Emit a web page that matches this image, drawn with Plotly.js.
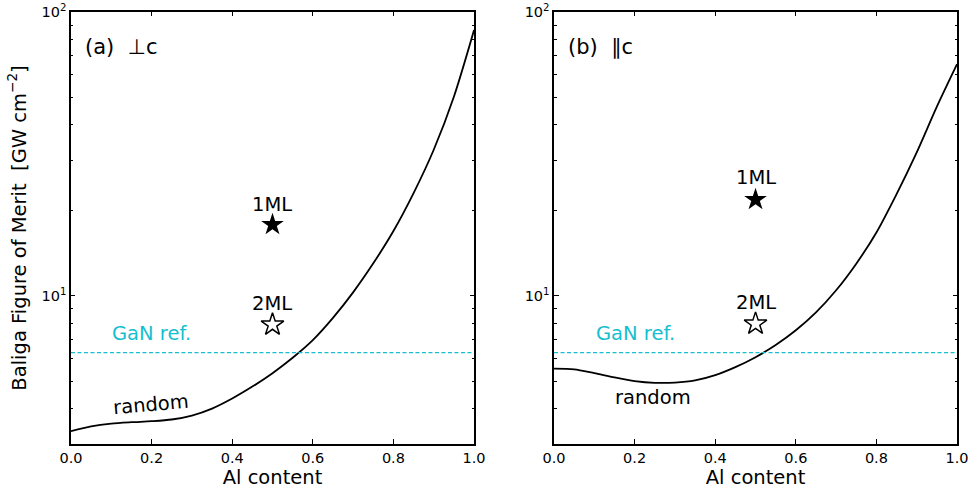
<!DOCTYPE html>
<html>
<head>
<meta charset="utf-8">
<script src="https://cdn.plot.ly/plotly-3.0.1.min.js"></script>
<style>html,body{margin:0;padding:0;background:#fff;}#chart{width:972px;height:493px;}</style>
</head>
<body>
<div id="chart"></div>
<script>
// Al content grid
const alContent = [0.00,0.05,0.10,0.15,0.20,0.25,0.30,0.35,0.40,0.45,0.50,0.55,0.60,0.65,0.70,0.75,0.80,0.85,0.90,0.95,1.00];
// (a) perpendicular to c, random alloy BFOM [GW cm^-2]
const randomPerp = [3.33,3.46,3.54,3.58,3.61,3.66,3.78,4.00,4.34,4.78,5.33,6.04,6.97,8.35,10.27,13.0,16.9,23.0,32.7,50.3,86.4];
// (b) parallel to c
const randomPar = [5.53,5.50,5.33,5.15,5.00,4.93,4.94,5.03,5.25,5.60,6.07,6.70,7.55,8.73,10.45,12.97,16.7,22.8,32.0,46.4,65.5];
// superlattice points
const mlX = [0.5];
const ml1Perp = [17.8], ml2Perp = [7.9];
const ml1Par = [21.8], ml2Par = [7.96];
// GaN reference
const ganRef = 6.3;
const refX = [0, 1];
// tick labels
const xTickVals = [0,0.2,0.4,0.6,0.8,1.0];
const xTickText = ['0.0','0.2','0.4','0.6','0.8','1.0'];
const yTickVals = [10,100];
const yTickText = ['10<sup>1</sup>','10<sup>2</sup>'];
const yMinorVals = [3,4,5,6,7,8,9,20,30,40,50,60,70,80,90];

const FONT = "DejaVu Sans, sans-serif";
const cyan = "#17becf";
const TXT = 19.5;
const YDOM = [0.0994,0.9757];
const YRANGE = [Math.log10(3), 2.0002];

const traces = [
  {x: alContent, y: randomPerp, xaxis:'x', yaxis:'y', mode:'lines', line:{color:'black', width:1.8, shape:'spline', smoothing:0.8}},
  {x: refX, y: refX.map(()=>ganRef), xaxis:'x', yaxis:'y', mode:'lines', line:{color:cyan, width:1.2, dash:'4px,2.5px'}},
  {x: mlX, y: ml1Perp, xaxis:'x', yaxis:'y', mode:'markers', marker:{symbol:'star', size:17, color:'black'}},
  {x: mlX, y: ml2Perp, xaxis:'x', yaxis:'y', mode:'markers', marker:{symbol:'star-open', size:17, color:'black', line:{width:1.5}}},
  {x: alContent, y: randomPar, xaxis:'x2', yaxis:'y2', mode:'lines', line:{color:'black', width:1.8, shape:'spline', smoothing:0.8}},
  {x: refX, y: refX.map(()=>ganRef), xaxis:'x2', yaxis:'y2', mode:'lines', line:{color:cyan, width:1.2, dash:'4px,2.5px'}},
  {x: mlX, y: ml1Par, xaxis:'x2', yaxis:'y2', mode:'markers', marker:{symbol:'star', size:17, color:'black'}},
  {x: mlX, y: ml2Par, xaxis:'x2', yaxis:'y2', mode:'markers', marker:{symbol:'star-open', size:17, color:'black', line:{width:1.5}}},
  // empty traces to bring up the minor-tick overlay axes
  {x: [], y: [], xaxis:'x', yaxis:'y3', mode:'lines', hoverinfo:'skip'},
  {x: [], y: [], xaxis:'x2', yaxis:'y4', mode:'lines', hoverinfo:'skip'}
];

function xax(domain, anchor){
  return {domain:domain, anchor:anchor, range:[0,1], tickmode:'array', tickvals:xTickVals, ticktext:xTickText,
    ticks:'inside', ticklen:4.5, tickwidth:1, tickcolor:'black', mirror:'ticks', showline:true, linecolor:'black', linewidth:1.6,
    showgrid:false, zeroline:false, tickfont:{size:14.5, color:'black', family:FONT},
    title:{text:'Al content', font:{size:TXT, color:'black', family:FONT}, standoff:3}};
}
function yax(anchor, withTitle){
  const a = {domain:YDOM, type:'log', range:YRANGE, anchor:anchor,
    tickmode:'array', tickvals:yTickVals, ticktext:yTickText, ticks:'inside', ticklen:4.5, tickwidth:1, tickcolor:'black',
    mirror:'ticks', showline:true, linecolor:'black', linewidth:1.6, showgrid:false, zeroline:false,
    tickfont:{size:14.5, color:'black', family:FONT}};
  if (withTitle) a.title = {text:'Baliga Figure of Merit  [GW cm<sup>−2</sup>]', font:{size:TXT, color:'black', family:FONT}, standoff:10};
  return a;
}
function yminor(anchor, over){
  return {domain:YDOM, type:'log', range:YRANGE, anchor:anchor, overlaying:over, side:'left',
    tickmode:'array', tickvals:yMinorVals, showticklabels:false, ticks:'inside', ticklen:2.5, tickwidth:1, tickcolor:'black',
    mirror:'ticks', showline:true, linecolor:'black', linewidth:1.6, showgrid:false, zeroline:false};
}

const ann = (xref, yref, x, y, text, extra) => Object.assign({xref:xref, yref:yref, x:x, y:y, text:text, showarrow:false,
  font:{size:TXT, color:'black', family:FONT}}, extra||{});

const layout = {
  width:972, height:493, margin:{l:0,r:0,t:0,b:0}, paper_bgcolor:'white', plot_bgcolor:'white', showlegend:false,
  font:{family:FONT},
  xaxis: xax([0.0730,0.4877], 'y'), yaxis: yax('x', true),
  xaxis2: xax([0.5700,0.9846], 'y2'), yaxis2: yax('x2', false),
  yaxis3: yminor('x', 'y'), yaxis4: yminor('x2', 'y2'),
  annotations: [
    ann('x domain','y domain',0.03,0.951,'(a)  ⊥c',{xanchor:'left', font:{size:21,color:'black',family:FONT}}),
    ann('x2 domain','y2 domain',0.03,0.951,'(b)  ∥c',{xanchor:'left', font:{size:21,color:'black',family:FONT}}),
    ann('x','y',0.5,Math.log10(20.97),'1ML'),
    ann('x','y',0.5,Math.log10(9.37),'2ML'),
    ann('x','y',0.199,Math.log10(7.35),'GaN ref.',{font:{size:TXT,color:cyan,family:FONT}}),
    ann('x','y',0.199,Math.log10(4.15),'random',{textangle:-5}),
    ann('x2','y2',0.5,Math.log10(26.1),'1ML'),
    ann('x2','y2',0.5,Math.log10(9.45),'2ML'),
    ann('x2','y2',0.201,Math.log10(7.35),'GaN ref.',{font:{size:TXT,color:cyan,family:FONT}}),
    ann('x2','y2',0.246,Math.log10(4.36),'random')
  ]
};

Plotly.newPlot('chart', traces, layout, {staticPlot:true, displayModeBar:false});
</script>
</body>
</html>
